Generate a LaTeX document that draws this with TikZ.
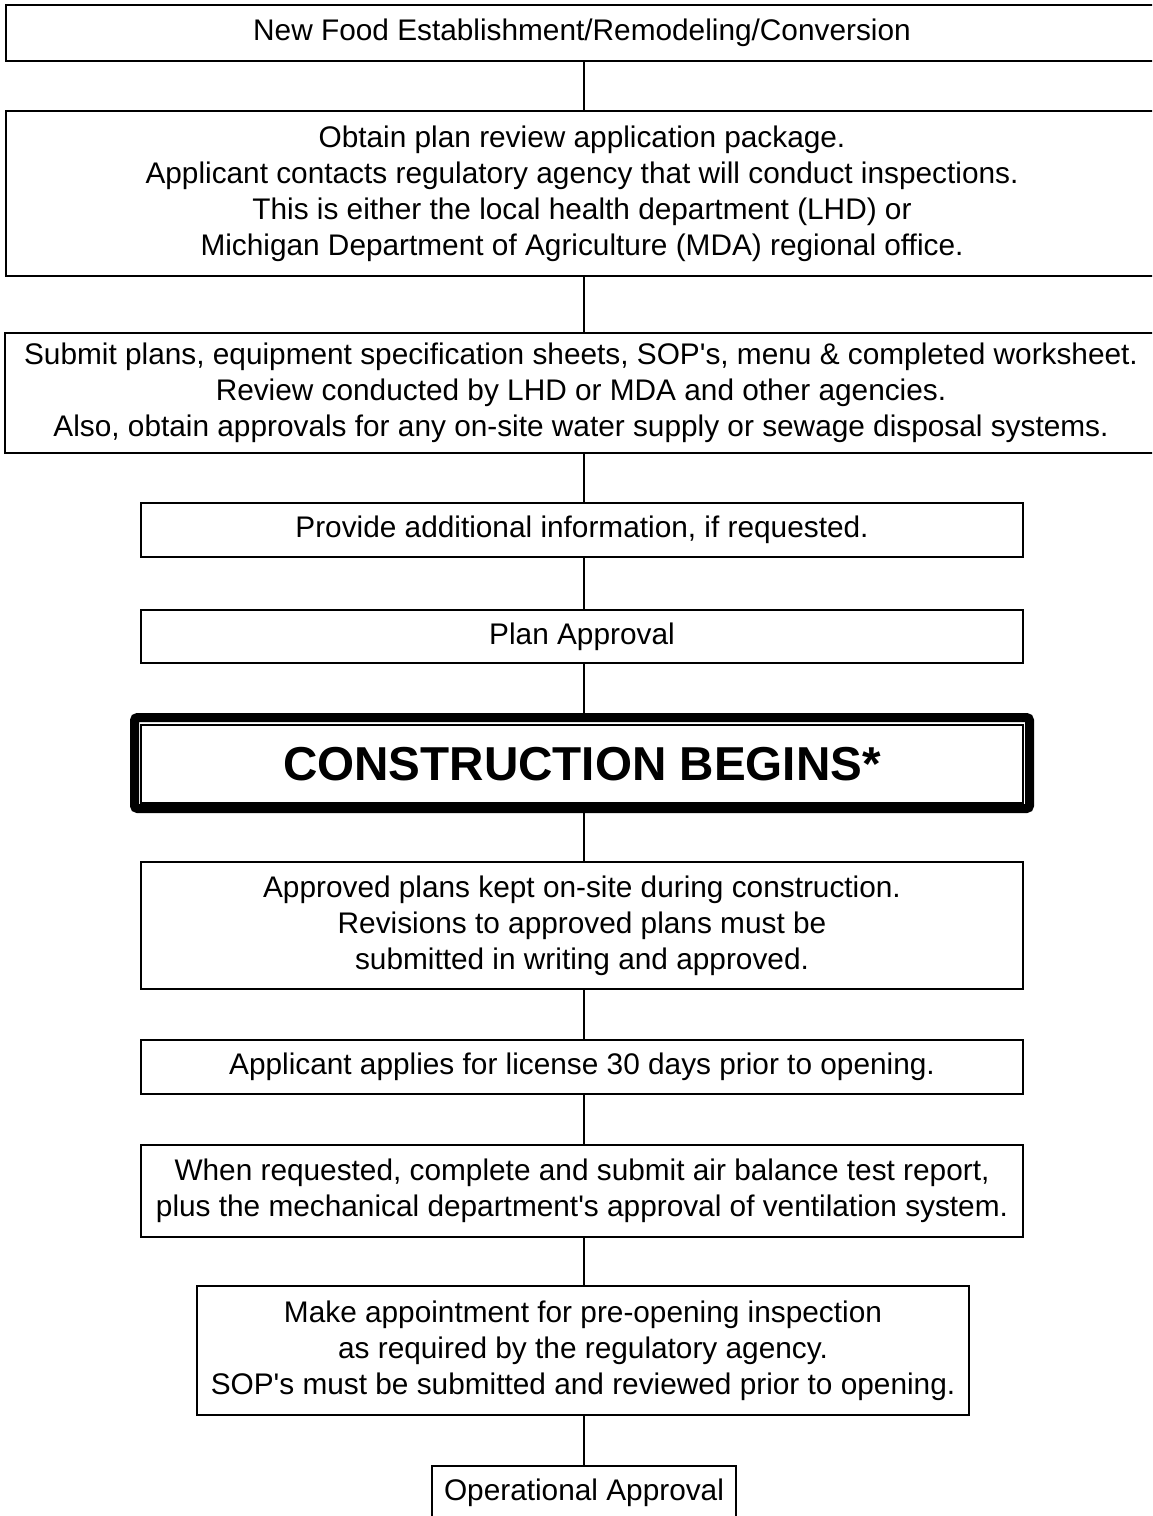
\documentclass[tikz,border=0pt]{standalone}
\usepackage{fontspec}
\setmainfont{Liberation Sans}
\begin{document}
\begin{tikzpicture}[x=0.5pt,y=-0.5pt,
  box/.style={draw=black, line width=1pt, inner sep=0pt, align=center,
    font=\fontsize{14.9pt}{18pt}\selectfont},
  link/.style={draw=black, line width=1pt}]
\useasboundingbox (0,0) rectangle (1152,1516);
\clip (0,0) rectangle (1152,1516);
\coordinate (spine) at (584,0);
\node[box, minimum width=576pt, minimum height=28pt] (n1) at (582,33)
  {New Food Establishment/Remodeling/Conversion};
\node[box, minimum width=576pt, minimum height=82.5pt] (n2) at (582,193.5)
  {Obtain plan review application package.\\
   Applicant contacts regulatory agency that will conduct inspections.\\
   This is either the local health department (LHD) or\\
   Michigan Department of Agriculture (MDA) regional office.};
\node[box, minimum width=576pt, minimum height=60pt] (n3) at (581,393)
  {Submit plans, equipment specification sheets, SOP\textquotesingle s, menu \& completed worksheet.\\
   Review conducted by LHD or MDA and other agencies.\\
   Also, obtain approvals for any on-site water supply or sewage disposal systems.};
\node[box, minimum width=441pt, minimum height=27pt] (n4) at (582,530)
  {Provide additional information, if requested.};
\node[box, minimum width=441pt, minimum height=26.5pt] (n5) at (582,636.5)
  {Plan Approval};
\node[draw=black, line width=4.5pt, rounded corners=1.5pt, inner sep=0pt,
  minimum width=447.5pt, minimum height=45.5pt] (n6o) at (582,763) {};
\node[box, minimum width=441pt, minimum height=39pt,
  font=\fontsize{23.8pt}{28pt}\selectfont\bfseries] (n6) at (582,764)
  {CONSTRUCTION BEGINS*};
\node[box, minimum width=441pt, minimum height=63.5pt] (n7) at (582,925.5)
  {Approved plans kept on-site during construction.\\
   Revisions to approved plans must be\\
   submitted in writing and approved.};
\node[box, minimum width=441pt, minimum height=27pt] (n8) at (582,1067)
  {Applicant applies for license 30 days prior to opening.};
\node[box, minimum width=441pt, minimum height=46pt] (n9) at (582,1191)
  {When requested, complete and submit air balance test report,\\
   plus the mechanical department\textquotesingle s approval of ventilation system.};
\node[box, minimum width=386pt, minimum height=64.5pt] (n10) at (583,1350.5)
  {Make appointment for pre-opening inspection\\
   as required by the regulatory agency.\\
   SOP\textquotesingle s must be submitted and reviewed prior to opening.};
\node[box, minimum width=152pt, minimum height=27pt, anchor=north] (n11) at (584,1465)
  {Operational Approval};
\draw[link] (n1.south -| spine) -- (n2.north -| spine);
\draw[link] (n2.south -| spine) -- (n3.north -| spine);
\draw[link] (n3.south -| spine) -- (n4.north -| spine);
\draw[link] (n4.south -| spine) -- (n5.north -| spine);
\draw[link] (n5.south -| spine) -- (n6o.north -| spine);
\draw[link] (n6o.south -| spine) -- (n7.north -| spine);
\draw[link] (n7.south -| spine) -- (n8.north -| spine);
\draw[link] (n8.south -| spine) -- (n9.north -| spine);
\draw[link] (n9.south -| spine) -- (n10.north -| spine);
\draw[link] (n10.south -| spine) -- (n11.north -| spine);
\end{tikzpicture}
\end{document}
